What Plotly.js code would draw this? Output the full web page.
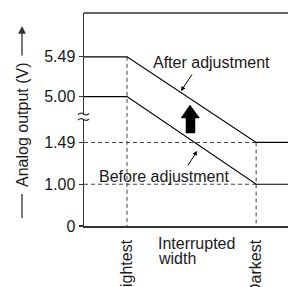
<!DOCTYPE html>
<html>
<head>
<meta charset="utf-8">
<script src="https://cdn.plot.ly/plotly-3.0.1.min.js"></script>
<style>html,body{margin:0;padding:0;background:#fff;}#chart{width:288px;height:287px;}</style>
</head>
<body>
<div id="chart"></div>
<script>
// ---- data ----
const xTickLabels = ['Lightest', 'Darkest'];
const xTickPos = [1, 4];
const xExtent = [0, 4.74];
const yTickLabels = ['0', '1.00', '1.49', '5.00', '5.49'];
const yTickValues = [0, 1.00, 1.49, 5.00, 5.49];
// broken axis: display position of each tick value
const yTickPos = [0, 1, 2, 3.1, 4.05];
const yTop = 5.1;

const curveX = [0, 1, 4, 4.74];
const afterValues = [5.49, 5.49, 1.49, 1.49];
const beforeValues = [5.00, 5.00, 1.00, 1.00];

function yPos(v) { const i = yTickValues.indexOf(v); return yTickPos[i]; }

// ---- geometry helpers (pixel -> paper) ----
const L = 84, R = 288, T = 13, B = 226;
const W = 288, H = 287;
const px = p => (p - L) / (R - L);
const py = p => (B - p) / (B - T);

const FONT = 'Liberation Sans, Arial, Helvetica, sans-serif';
const dashStyle = {color: '#444', width: 1, dash: '4px,3px'};

const traces = [
  // dashed guides
  {x: [xExtent[0], xTickPos[1]], y: [yPos(1.49), yPos(1.49)], mode: 'lines', line: dashStyle, hoverinfo: 'skip'},
  {x: [xExtent[0], xTickPos[1]], y: [yPos(1.00), yPos(1.00)], mode: 'lines', line: dashStyle, hoverinfo: 'skip'},
  {x: [xTickPos[0], xTickPos[0]], y: [yPos(5.49), 0], mode: 'lines', line: dashStyle, hoverinfo: 'skip'},
  {x: [xTickPos[1], xTickPos[1]], y: [yPos(1.49), 0], mode: 'lines', line: dashStyle, hoverinfo: 'skip'},
  // curves
  {x: curveX, y: afterValues.map(yPos), mode: 'lines', line: {color: '#000', width: 1.2}, hoverinfo: 'skip'},
  {x: curveX, y: beforeValues.map(yPos), mode: 'lines', line: {color: '#000', width: 1.2}, hoverinfo: 'skip'}
];

// big up arrow (pixel outline)
const arrowPts = [[190,105],[199.5,118],[195,118],[195,133],[186,133],[186,118],[181,118]];
const arrowPath = 'M' + arrowPts.map(p => px(p[0]) + ',' + py(p[1])).join(' L') + ' Z';

function tilde(x0, x1, y) {
  const xm = (x0 + x1) / 2;
  return 'M' + px(x0) + ',' + py(y + 0.5) + ' Q' + px((x0 + xm) / 2) + ',' + py(y - 2.2) + ' ' + px(xm) + ',' + py(y) +
         ' Q' + px((xm + x1) / 2) + ',' + py(y + 2.2) + ' ' + px(x1) + ',' + py(y - 0.5);
}

const shapes = [
  // top border
  {type: 'line', xref: 'paper', yref: 'paper', x0: 0, x1: 1, y0: 1, y1: 1, line: {color: '#333', width: 1.5}},
  // gap in y axis for break
  {type: 'rect', xref: 'paper', yref: 'paper', x0: px(82), x1: px(86), y0: py(119), y1: py(114.5), fillcolor: '#fff', line: {width: 0}},
  {type: 'path', xref: 'paper', yref: 'paper', path: tilde(78, 89, 114), line: {color: '#333', width: 1.2}},
  {type: 'path', xref: 'paper', yref: 'paper', path: tilde(78, 89, 119.5), line: {color: '#333', width: 1.2}},
  // big arrow
  {type: 'path', xref: 'paper', yref: 'paper', path: arrowPath, fillcolor: '#000', line: {color: '#000', width: 0.5}},
  // lower part of y title line
  {type: 'line', xref: 'paper', yref: 'paper', x0: px(22), x1: px(22), y0: py(194), y1: py(218), line: {color: '#333', width: 1.3}}
];

const txt = {family: FONT, size: 16, color: '#1a1a1a'};
const annotations = [
  {xref: 'paper', yref: 'paper', x: px(22), y: py(125), text: 'Analog output (V)', showarrow: false, textangle: -90, font: txt, xanchor: 'center', yanchor: 'middle'},
  {xref: 'paper', yref: 'paper', x: px(22), y: py(26), text: '', showarrow: true, ax: 0, ay: 31, arrowhead: 2, arrowsize: 1.2, arrowwidth: 1.3, arrowcolor: '#333'},
  {xref: 'paper', yref: 'paper', x: px(211), y: py(62), text: 'After adjustment', showarrow: false, font: txt, xanchor: 'center', yanchor: 'middle'},
  {xref: 'paper', yref: 'paper', x: px(181), y: py(91), text: '', showarrow: true, ax: 12, ay: -18, arrowhead: 2, arrowsize: 0.9, arrowwidth: 1, arrowcolor: '#000'},
  {xref: 'paper', yref: 'paper', x: px(164), y: py(176), text: 'Before adjustment', showarrow: false, font: txt, xanchor: 'center', yanchor: 'middle'},
  {xref: 'paper', yref: 'paper', x: px(197), y: py(151), text: '', showarrow: true, ax: -10, ay: 16, arrowhead: 2, arrowsize: 0.9, arrowwidth: 1, arrowcolor: '#000'},
  {xref: 'paper', yref: 'paper', x: px(156), y: py(243), text: 'Interrupted', showarrow: false, font: txt, xanchor: 'left', yanchor: 'middle'},
  {xref: 'paper', yref: 'paper', x: px(156), y: py(258), text: 'width', showarrow: false, font: txt, xanchor: 'left', yanchor: 'middle'}
];

const layout = {
  width: W, height: H,
  margin: {l: L, r: W - R, t: T, b: H - B},
  paper_bgcolor: '#fff', plot_bgcolor: '#fff',
  showlegend: false,
  font: txt,
  xaxis: {
    range: xExtent, showgrid: false, zeroline: false,
    showline: true, linecolor: '#333', linewidth: 1.5,
    tickmode: 'array', tickvals: xTickPos, ticktext: xTickLabels,
    tickangle: -90, ticks: '', ticklabelstandoff: 6,
    tickfont: txt, fixedrange: true
  },
  yaxis: {
    range: [0, yTop], showgrid: false, zeroline: false,
    showline: true, linecolor: '#333', linewidth: 1.5,
    tickmode: 'array', tickvals: yTickPos, ticktext: yTickLabels,
    ticks: 'outside', ticklen: 4, tickcolor: '#333', tickwidth: 1.2,
    tickfont: txt, fixedrange: true
  },
  shapes: shapes,
  annotations: annotations
};

Plotly.newPlot('chart', traces, layout, {displayModeBar: false, staticPlot: true});
</script>
</body>
</html>
